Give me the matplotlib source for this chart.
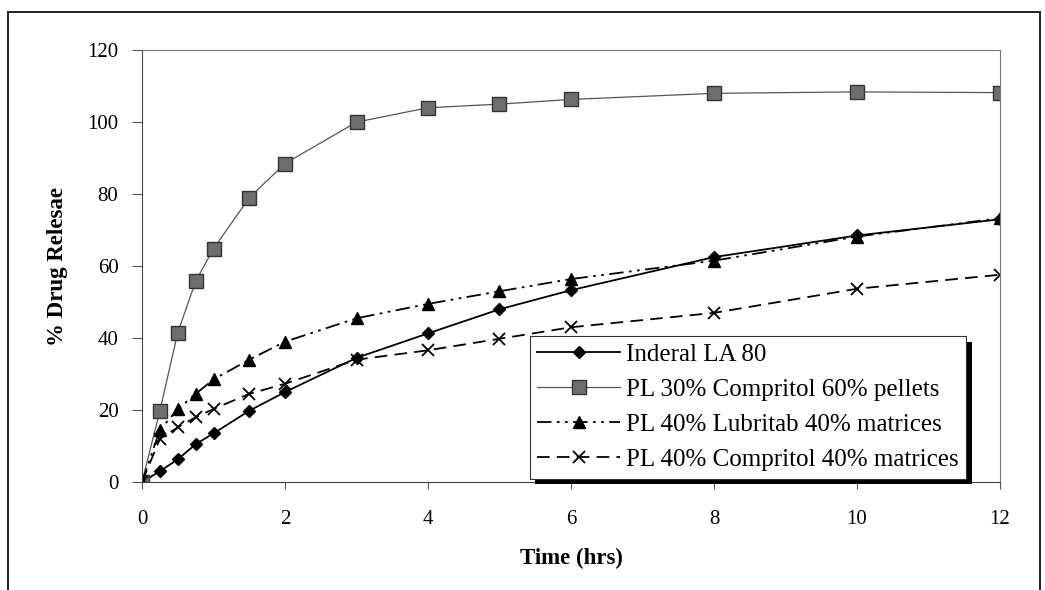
import matplotlib.pyplot as plt
import matplotlib.patheffects as pe
from matplotlib.patches import Rectangle

# ---------------------------------------------------------------------------
# Data
# ---------------------------------------------------------------------------
time_hrs = [0, 0.25, 0.5, 0.75, 1, 1.5, 2, 3, 4, 5, 6, 8, 10, 12]

inderal     = [0, 3.0, 6.3, 10.5, 13.5, 19.8, 25.0, 34.5, 41.3, 48.0, 53.3, 62.5, 68.5, 73.0]
pellets     = [0, 19.8, 41.5, 55.8, 64.8, 79.0, 88.5, 100.0, 104.0, 105.0, 106.3, 108.0, 108.4, 108.2]
lubritab    = [0, 14.5, 20.2, 24.5, 28.5, 34.0, 39.0, 45.5, 49.5, 53.0, 56.4, 61.5, 68.2, 73.3]
compritol40 = [0, 12.0, 15.2, 18.0, 20.3, 24.5, 27.3, 34.0, 36.6, 39.8, 43.0, 47.0, 53.7, 57.6]

labels = [
    "Inderal LA 80",
    "PL 30% Compritol 60% pellets",
    "PL 40% Lubritab 40% matrices",
    "PL 40% Compritol 40% matrices",
]

x_ticks = [0, 2, 4, 6, 8, 10, 12]
y_ticks = [0, 20, 40, 60, 80, 100, 120]

# ---------------------------------------------------------------------------
# Plot
# ---------------------------------------------------------------------------
plt.rcParams["font.family"] = ["Liberation Serif", "DejaVu Serif"]

fig = plt.figure(figsize=(10.45, 5.9), dpi=100)
ax = fig.add_axes([0.1359, 0.183, 0.821, 0.732])

ax.plot(time_hrs, inderal, color="black", lw=1.3, ls="-",
        marker="D", ms=6, mfc="black", mec="black", label=labels[0])
ax.plot(time_hrs, pellets, color="#555555", lw=0.9, ls="-",
        marker="s", ms=9.5, mfc="#6e6e6e", mec="#333333", mew=1.0, label=labels[1])
ax.plot(time_hrs, lubritab, color="black", lw=1.3, ls=(0, (8, 3, 1.5, 3, 1.5, 3)),
        marker="^", ms=8.5, mfc="black", mec="black", label=labels[2])
ax.plot(time_hrs, compritol40, color="black", lw=1.3, ls=(0, (7, 4)),
        marker="x", ms=9, mew=1.3, label=labels[3])

ax.set_xlim(0, 12)
ax.set_ylim(0, 120)
ax.set_xticks(x_ticks)
ax.set_yticks(y_ticks)
ax.tick_params(axis="y", direction="out", length=7, width=0.8, color="#555555",
               labelsize=15, pad=10)
ax.tick_params(axis="x", direction="out", length=5, width=0.8, color="#555555",
               labelsize=15, pad=15)
for sp in ax.spines.values():
    sp.set_color("#777777")
    sp.set_linewidth(0.8)
ax.spines["left"].set_color("#444444")
ax.spines["bottom"].set_color("#444444")

ax.set_xlabel("Time (hrs)", fontsize=16.5, fontweight="bold", labelpad=14)
ax.set_ylabel("% Drug Relesae", fontsize=16.5, fontweight="bold", labelpad=14)

leg = ax.legend(loc="upper left", bbox_to_anchor=(0.452, 0.338), fontsize=18,
                frameon=True, fancybox=False, edgecolor="#333333", framealpha=1,
                handlelength=3.3, handletextpad=0.25, labelspacing=0.5,
                borderpad=0.3, borderaxespad=0)
frame = leg.get_frame()
frame.set_linewidth(0.8)
frame.set_path_effects([pe.SimplePatchShadow(offset=(4, -4), shadow_rgbFace="black", alpha=1.0),
                        pe.Normal()])

# outer frame around the whole chart
fig.patches.append(Rectangle((8 / 1045, -0.01), 1032 / 1045, 1 - 12 / 590 + 0.01,
                             transform=fig.transFigure, fill=False,
                             edgecolor="#222222", lw=1.4))

fig.savefig("out.png", dpi=100)
